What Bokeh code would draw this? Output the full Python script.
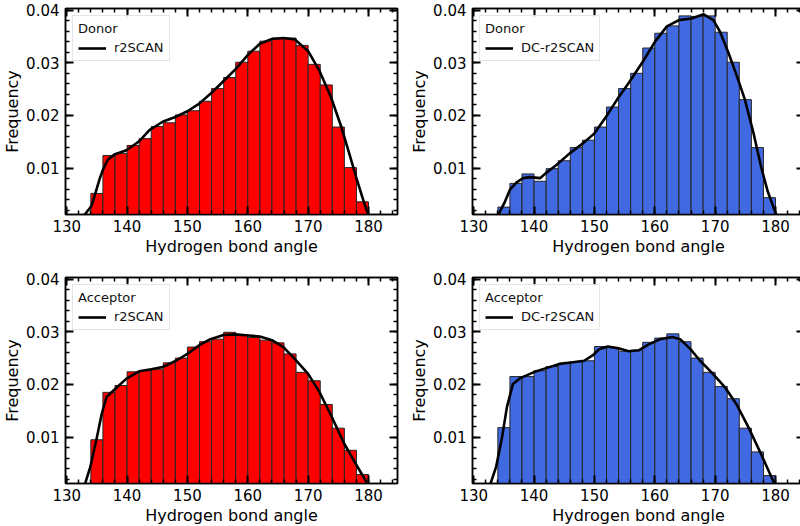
from bokeh.plotting import figure
from bokeh.models import (LinearAxis, SingleIntervalTicker, PrintfTickFormatter,
                          Range1d, Legend, LegendItem)
from bokeh.layouts import gridplot
from bokeh.embed import file_html
from bokeh.resources import INLINE

# ---------------- data ----------------
bin_left = [134, 136, 138, 140, 142, 144, 146, 148, 150, 152, 154, 156,
            158, 160, 162, 164, 166, 168, 170, 172, 174, 176, 178]
bin_width = 2

donor_r2scan = [0.0052, 0.0124, 0.0128, 0.0143, 0.0156, 0.0179, 0.0186, 0.0201,
                0.0209, 0.0227, 0.0251, 0.0272, 0.0301, 0.0322, 0.0341, 0.0347,
                0.0347, 0.0333, 0.0297, 0.0258, 0.0178, 0.0101, 0.0036]
donor_dc = [0.0026, 0.0071, 0.0089, 0.0075, 0.0099, 0.0114, 0.0139, 0.0153,
            0.0178, 0.0216, 0.0251, 0.0280, 0.0328, 0.0356, 0.0370, 0.0389,
            0.0388, 0.0389, 0.0358, 0.0301, 0.0230, 0.0139, 0.0044]
acceptor_r2scan = [0.0095, 0.0185, 0.0198, 0.0224, 0.0226, 0.0229, 0.0241, 0.0250,
                   0.0271, 0.0281, 0.0286, 0.0299, 0.0293, 0.0289, 0.0284, 0.0279,
                   0.0258, 0.0223, 0.0207, 0.0162, 0.0117, 0.0075, 0.0029]
acceptor_dc = [0.0118, 0.0215, 0.0215, 0.0226, 0.0234, 0.0240, 0.0243, 0.0245,
               0.0272, 0.0270, 0.0263, 0.0265, 0.0280, 0.0288, 0.0296, 0.0281,
               0.0250, 0.0223, 0.0196, 0.0173, 0.0117, 0.0072, 0.0027]

kde_donor_r2scan_x = [132.0, 133.0, 134.1, 135.5, 136.0, 136.8, 137.9, 139.9, 142.0,
                      143.7, 145.9, 148.0, 150.0, 151.9, 154.1, 155.7, 157.9, 160.1,
                      162.0, 164.0, 165.9, 167.8, 170.0, 171.9, 173.8, 175.5, 176.8,
                      178.0, 179.0, 179.8, 181.0]
kde_donor_r2scan_y = [-0.002, 0.0012, 0.0028, 0.0081, 0.0097, 0.0116, 0.0126, 0.0134, 0.0151,
                      0.0172, 0.0188, 0.0197, 0.0208, 0.0222, 0.0244, 0.0262, 0.0287, 0.0316,
                      0.0336, 0.0345, 0.0347, 0.0344, 0.0322, 0.0284, 0.0234, 0.0178, 0.0128,
                      0.0081, 0.0044, 0.0016, -0.002]

kde_donor_dc_x = [133.0, 134.1, 135.2, 136.0, 137.1, 138.2, 139.3, 141.0, 142.0, 143.7,
                  145.9, 148.1, 150.0, 151.9, 153.8, 155.7, 157.9, 160.1, 162.0, 164.0,
                  166.1, 168.1, 169.7, 170.8, 172.2, 173.5, 174.9, 176.3, 177.6, 178.7,
                  180.1, 181.0]
kde_donor_dc_y = [-0.002, 0.0012, 0.0037, 0.0059, 0.0073, 0.0081, 0.0083, 0.0081, 0.0091, 0.0106,
                  0.0128, 0.0147, 0.0166, 0.0197, 0.0231, 0.0262, 0.0300, 0.0341, 0.0369, 0.0381,
                  0.0384, 0.0392, 0.0381, 0.0359, 0.0319, 0.0278, 0.0231, 0.0169, 0.0103, 0.0056,
                  0.0012, -0.002]

kde_acceptor_r2scan_x = [132.0, 133.0, 133.9, 134.9, 135.8, 136.6, 137.7, 139.9, 142.0, 144.0,
                         145.9, 148.1, 150.0, 151.9, 153.8, 156.0, 157.9, 160.1, 162.0, 164.0,
                         165.9, 167.8, 170.0, 171.9, 173.8, 176.0, 177.9, 179.8, 181.0]
kde_acceptor_r2scan_y = [-0.002, 0.0010, 0.0043, 0.0094, 0.0144, 0.0176, 0.0188, 0.0211, 0.0225, 0.0229,
                         0.0233, 0.0245, 0.0258, 0.0274, 0.0286, 0.0294, 0.0295, 0.0293, 0.0291, 0.0284,
                         0.0271, 0.0248, 0.0220, 0.0185, 0.0141, 0.0087, 0.0049, 0.0012, -0.002]

kde_acceptor_dc_x = [132.0, 132.7, 133.7, 134.7, 135.5, 136.5, 137.7, 139.9, 142.0, 144.2,
                     146.4, 148.3, 149.7, 150.8, 152.2, 153.8, 155.7, 157.4, 159.0, 160.9,
                     162.9, 164.2, 165.9, 167.5, 169.4, 171.6, 173.5, 175.5, 177.6, 179.8, 181.0]
kde_acceptor_dc_y = [-0.002, 0.0009, 0.0043, 0.0100, 0.0157, 0.0201, 0.0212, 0.0223, 0.0231, 0.0239,
                     0.0242, 0.0245, 0.0255, 0.0267, 0.0272, 0.0269, 0.0263, 0.0265, 0.0276, 0.0286,
                     0.0290, 0.0286, 0.0267, 0.0245, 0.0223, 0.0195, 0.0163, 0.0119, 0.0068, 0.0012, -0.002]

FONT = "DejaVu Sans"
RED = "#ff0000"
BLUE = "#4169e1"


def style_axis(ax, show_labels):
    ax.axis_line_width = 1.5
    ax.axis_line_color = "black"
    ax.major_tick_in = 8
    ax.major_tick_out = 0
    ax.minor_tick_in = 4
    ax.minor_tick_out = 0
    ax.major_tick_line_width = 2
    ax.minor_tick_line_width = 1.5
    ax.major_tick_line_color = "black"
    ax.minor_tick_line_color = "black"
    if show_labels:
        ax.major_label_text_font = FONT
        ax.major_label_text_font_size = "15px"
        ax.major_label_text_color = "black"
        ax.axis_label_text_font = FONT
        ax.axis_label_text_font_size = "16px"
        ax.axis_label_text_font_style = "normal"
        ax.axis_label_text_color = "black"
    else:
        ax.major_label_text_font_size = "1px"
        ax.major_label_text_color = None
        ax.major_label_standoff = 0


def make_panel(heights, color, kx, ky, title, label, col, row):
    p = figure(frame_width=332, frame_height=206,
               x_range=Range1d(129.8, 184.8), y_range=Range1d(0.0012, 0.0403),
               output_backend="svg", toolbar_location=None,
               min_border_top=8 if row == 0 else 19,
               min_border_right=10 if col == 0 else 2,
               min_border_left=5, min_border_bottom=5,
               x_axis_label="Hydrogen bond angle", y_axis_label="Frequency")
    p.outline_line_color = "black"
    p.outline_line_width = 1.5
    p.grid.visible = False
    p.background_fill_color = "white"
    p.border_fill_color = "white"

    xt = SingleIntervalTicker(interval=10, num_minor_ticks=5)
    yt = SingleIntervalTicker(interval=0.01, num_minor_ticks=5)
    p.xaxis.ticker = xt
    p.yaxis.ticker = yt
    p.yaxis.formatter = PrintfTickFormatter(format="%.2f")
    for ax in p.xaxis:
        style_axis(ax, True)
        ax.major_label_standoff = 5
        ax.axis_label_standoff = 2
    for ax in p.yaxis:
        style_axis(ax, True)
        ax.major_label_standoff = 6
        ax.axis_label_standoff = 1

    top_ax = LinearAxis(ticker=SingleIntervalTicker(interval=10, num_minor_ticks=5))
    right_ax = LinearAxis(ticker=SingleIntervalTicker(interval=0.01, num_minor_ticks=5))
    style_axis(top_ax, False)
    style_axis(right_ax, False)
    p.add_layout(top_ax, "above")
    p.add_layout(right_ax, "right")

    rights = [b + bin_width for b in bin_left]
    p.quad(left=bin_left, right=rights, bottom=0, top=heights,
           fill_color=color, fill_alpha=1.0, line_color="#262626", line_width=1)
    ln = p.line(kx, ky, line_color="black", line_width=2.6)

    leg = Legend(items=[LegendItem(label=label, renderers=[ln])], title=title,
                 location="top_left")
    leg.title_text_font = FONT
    leg.title_text_font_size = "13px"
    leg.title_text_font_style = "normal"
    leg.title_text_color = "#111111"
    leg.title_text_align = "center"
    leg.label_text_font = FONT
    leg.label_text_font_size = "13px"
    leg.label_text_color = "#111111"
    leg.border_line_color = "#cccccc"
    leg.border_line_width = 1
    leg.background_fill_alpha = 0.8
    leg.glyph_width = 28
    leg.glyph_height = 14
    leg.label_standoff = 8
    leg.padding = 5
    leg.spacing = 2
    leg.margin = 7
    leg.title_standoff = 4
    p.add_layout(leg)
    return p


p1 = make_panel(donor_r2scan, RED, kde_donor_r2scan_x, kde_donor_r2scan_y, "Donor", "r2SCAN", 0, 0)
p2 = make_panel(donor_dc, BLUE, kde_donor_dc_x, kde_donor_dc_y, "Donor", "DC-r2SCAN", 1, 0)
p3 = make_panel(acceptor_r2scan, RED, kde_acceptor_r2scan_x, kde_acceptor_r2scan_y, "Acceptor", "r2SCAN", 0, 1)
p4 = make_panel(acceptor_dc, BLUE, kde_acceptor_dc_x, kde_acceptor_dc_y, "Acceptor", "DC-r2SCAN", 1, 1)

grid = gridplot([[p1, p2], [p3, p4]], toolbar_location=None)

open("out.html", "w").write(file_html(grid, INLINE))
